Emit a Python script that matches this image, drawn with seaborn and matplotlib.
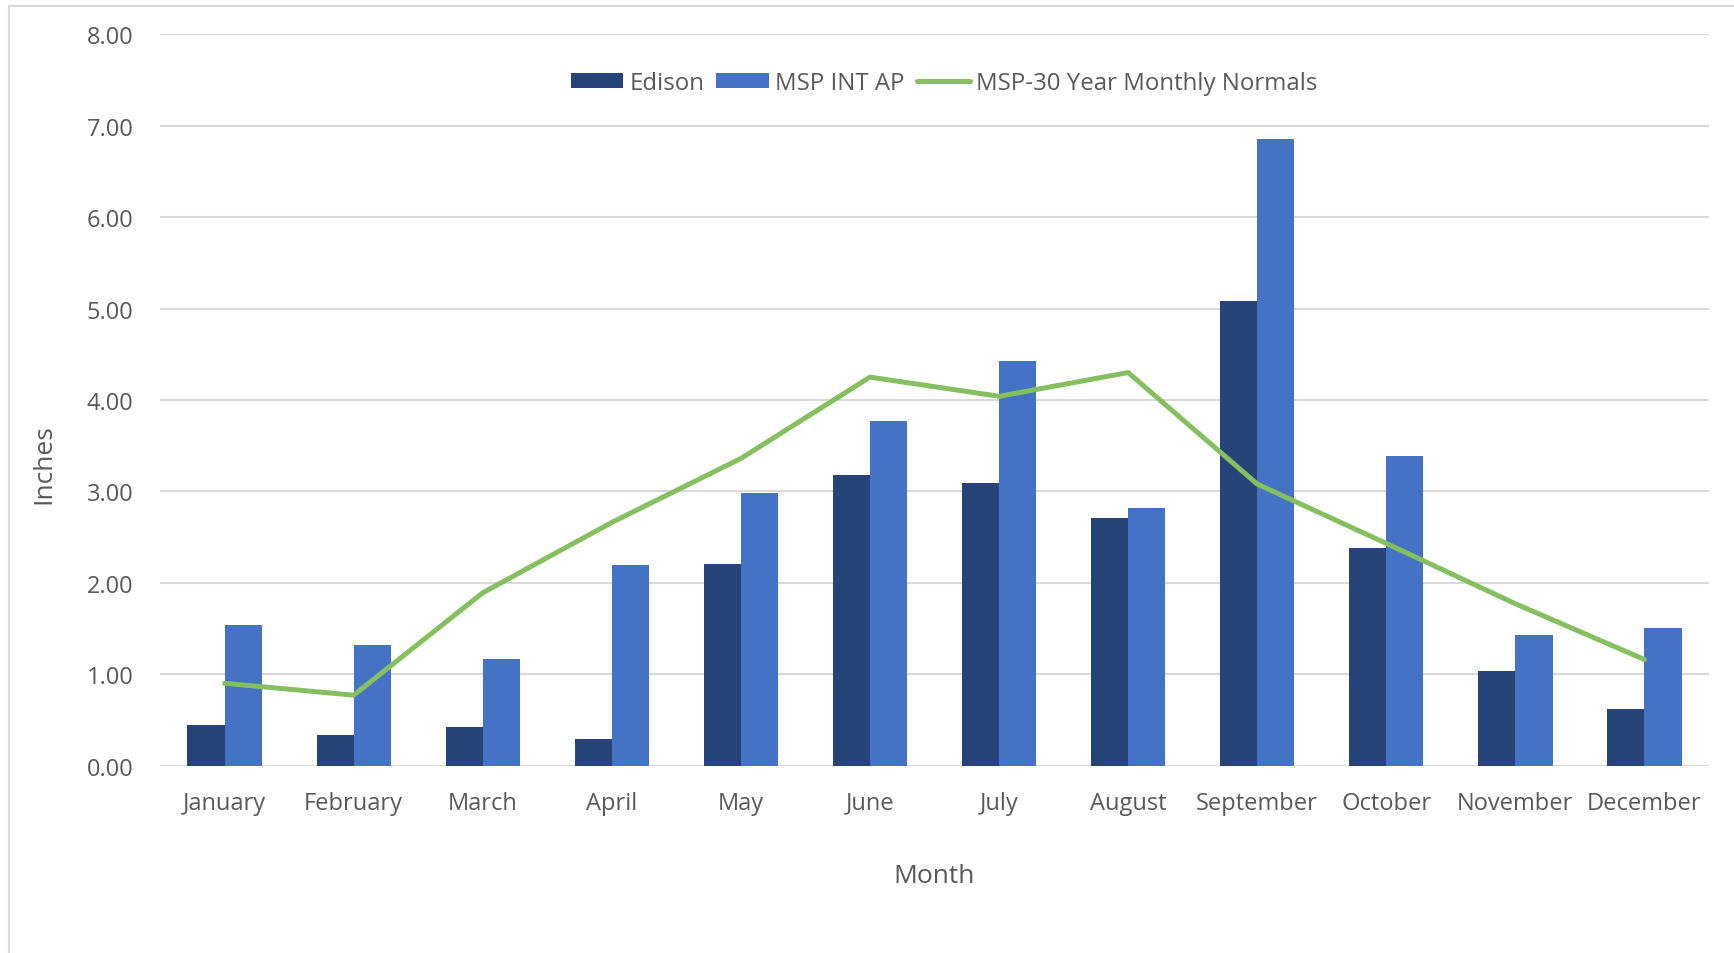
import numpy as np
import pandas as pd
import matplotlib
matplotlib.use("Agg")
import matplotlib.pyplot as plt
import matplotlib.patches as mpatches
import seaborn as sns

# chart values (inches of precipitation)
months = ["January", "February", "March", "April", "May", "June", "July",
          "August", "September", "October", "November", "December"]
edison = [0.44, 0.33, 0.42, 0.29, 2.20, 3.18, 3.09, 2.71, 5.08, 2.38, 1.03, 0.62]
msp_int_ap = [1.54, 1.32, 1.17, 2.19, 2.98, 3.77, 4.43, 2.82, 6.85, 3.39, 1.43, 1.51]
msp_normals = [0.90, 0.77, 1.89, 2.66, 3.36, 4.25, 4.04, 4.30, 3.08, 2.43, 1.77, 1.16]

series_names = ["Edison", "MSP INT AP"]
colors = {"Edison": "#264478", "MSP INT AP": "#4472C4"}
line_color = "#86BF60"
text_color = "#595959"
grid_color = "#D9D9D9"

sns.set_style("white")
plt.rcParams["font.family"] = ["Open Sans", "DejaVu Sans"]

# long-form table for the grouped bars
df = pd.DataFrame({
    "Month": months * 2,
    "Inches": edison + msp_int_ap,
    "Station": [series_names[0]] * len(months) + [series_names[1]] * len(months),
})

fig = plt.figure(figsize=(17.34, 9.54), dpi=100)
ax = fig.add_axes([0.0923, 0.1965, 0.8933, 0.7664])

sns.barplot(data=df, x="Month", y="Inches", hue="Station", order=months,
            hue_order=series_names, palette=colors, width=0.575, gap=0,
            saturation=1, errorbar=None, linewidth=0, ax=ax, zorder=2)

# normals line drawn at category centres
sns.lineplot(x=np.arange(len(months)), y=msp_normals, color=line_color,
             linewidth=3.6, ax=ax, label="MSP-30 Year Monthly Normals", zorder=3)

ax.set_ylim(0, 8)
ax.set_xlim(-0.5, len(months) - 0.5)
ax.set_yticks(np.arange(0, 9, 1))
ax.set_yticklabels([f"{v:.2f}" for v in np.arange(0, 9, 1)])
ax.yaxis.grid(True, color=grid_color, linewidth=1.5, zorder=0)
ax.set_axisbelow(True)
for side in ["top", "right", "left", "bottom"]:
    ax.spines[side].set_visible(False)
ax.axhline(0, color=grid_color, linewidth=2, zorder=1)

ax.tick_params(axis="both", length=0, labelsize=17, labelcolor=text_color)
ax.tick_params(axis="x", pad=18)
ax.tick_params(axis="y", pad=19)
ax.set_xlabel("Month", fontsize=19, color=text_color, labelpad=35)
ax.set_ylabel("Inches", fontsize=19, color=text_color, labelpad=22)
ax.yaxis.label.set_y(0.413)

handles, labels = ax.get_legend_handles_labels()
ax.legend(handles, labels, ncol=3, loc="center", bbox_to_anchor=(0.506, 0.934),
          frameon=False, fontsize=17.3, labelcolor=text_color, handlelength=2.2,
          handleheight=0.6, handletextpad=0.25, columnspacing=0.5)

# thin chart-area border
fig.patches.append(mpatches.Rectangle((0.0052, -0.01), 1.1, 1.0027,
                                      transform=fig.transFigure, fill=False,
                                      edgecolor=grid_color, linewidth=1.5))

fig.savefig("out.png", dpi=100, facecolor="white")
